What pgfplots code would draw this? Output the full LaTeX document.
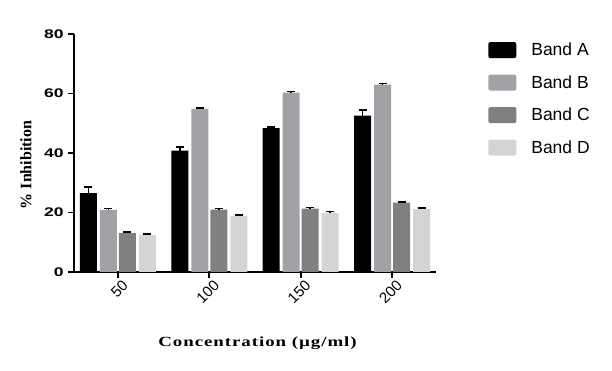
\documentclass[border=0pt]{standalone}
\usepackage{pgfplots}
\pgfplotsset{compat=1.18}
\usepackage{fontspec}
\setmainfont{Liberation Sans}
\newfontfamily\timesfont{Liberation Serif}
\newfontfamily\timeswide[LetterSpace=5]{Liberation Serif}
\definecolor{bandA}{RGB}{0,0,0}
\definecolor{bandB}{RGB}{162,162,166}
\definecolor{bandC}{RGB}{128,128,128}
\definecolor{bandD}{RGB}{212,212,212}
\begin{document}
\begin{tikzpicture}
\useasboundingbox (-74pt,-99pt) rectangle (538pt,272pt);
\begin{axis}[
  scale only axis, width=362pt, height=238pt,
  xmin=-0.48, xmax=3.48, ymin=0, ymax=80,
  axis x line*=bottom, axis y line*=left,
  axis line style={line width=1.6pt, -},
  xtick={0,1,2,3}, xticklabels={50,100,150,200},
  ytick={0,20,40,60,80},
  major tick length=6pt,
  tick style={line width=1.6pt, black},
  tick align=outside,
  /pgf/number format/assume math mode=true,
  yticklabel style={font=\fontsize{12.5}{12.5}\selectfont\bfseries, xscale=1.4, inner sep=3pt},
  xticklabel style={font=\fontsize{15}{15}\selectfont, rotate=45, anchor=north east, inner sep=1pt, xshift=3pt, yshift=-2pt},
  ylabel={\timesfont\bfseries \% Inhibition},
  ylabel style={font=\fontsize{16}{16}\selectfont, at={(axis description cs:-0.1326,0.45)}, anchor=center},
  xlabel={\timeswide\bfseries Concentration (µg/ml)},
  xlabel style={font=\fontsize{14}{14}\selectfont, at={(axis description cs:0.507,-0.3)}, anchor=center, xscale=1.35},
  ybar, bar width=17pt,
  legend style={at={(axis description cs:1.144,0.967)}, anchor=north west, draw=none, fill=none,
     font=\fontsize{17.5}{17.5}\selectfont, row sep=16.5pt, inner sep=0pt, column sep=0pt,
     nodes={inner sep=0pt, anchor=west},
     /tikz/every odd column/.append style={column sep=15pt}},
  legend cell align=left,
  legend image code/.code={\fill[#1, draw=none, rounded corners=2pt] (0pt,-8pt) rectangle (28pt,8pt);},
  error bars/y dir=plus, error bars/y explicit,
  error bars/error bar style={line width=1.5pt, black},
  error bars/error mark options={rotate=90, mark size=4pt, line width=1.5pt, black},
]
\addplot[fill=bandA, draw=none, bar shift=-29.5pt] coordinates {(0,26.5) +- (0,2.0) (1,40.8) +- (0,1.2) (2,48.4) +- (0,0.4) (3,52.6) +- (0,1.8)};
\addplot[fill=bandB, draw=none, bar shift=-9.5pt] coordinates {(0,20.9) +- (0,0.4) (1,54.8) +- (0,0.3) (2,60.3) +- (0,0.3) (3,63.0) +- (0,0.3)};
\addplot[fill=bandC, draw=none, bar shift=9.5pt] coordinates {(0,13.1) +- (0,0.4) (1,21.0) +- (0,0.3) (2,21.3) +- (0,0.3) (3,23.3) +- (0,0.3)};
\addplot[fill=bandD, draw=none, bar shift=29.5pt] coordinates {(0,12.4) +- (0,0.3) (1,18.9) +- (0,0.3) (2,19.8) +- (0,0.5) (3,21.1) +- (0,0.4)};
\legend{Band A, Band B, Band C, Band D}
\end{axis}
\end{tikzpicture}
\end{document}
